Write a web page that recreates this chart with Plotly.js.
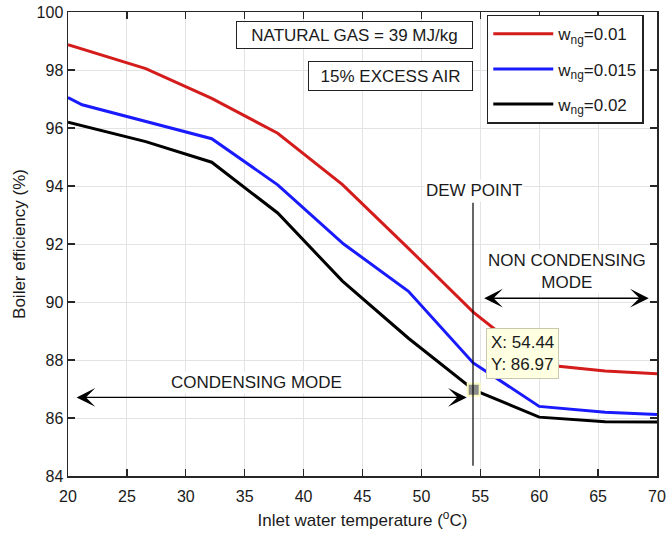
<!DOCTYPE html>
<html>
<head>
<meta charset="utf-8">
<script src="https://cdn.plot.ly/plotly-3.0.1.min.js"></script>
<style>html,body{margin:0;padding:0;background:#fff;}#chart{width:669px;height:539px;}</style>
</head>
<body>
<div id="chart"></div>
<script>
// ---- data ----
const seriesNames = ['w<sub>ng</sub>=0.01', 'w<sub>ng</sub>=0.015', 'w<sub>ng</sub>=0.02'];
const redX   = [20, 26.6, 32.2, 37.8, 43.3, 48.9, 54.4, 60, 65.6, 70];
const redY   = [98.87, 98.05, 97.02, 95.82, 94.05, 91.85, 89.65, 87.85, 87.62, 87.53];
const blueX  = [20, 21.2, 32.2, 37.8, 43.4, 48.9, 54.4, 60, 65.6, 70];
const blueY  = [97.05, 96.8, 95.63, 94.04, 92.0, 90.37, 87.9, 86.4, 86.2, 86.12];
const blackX = [20, 26.6, 32.2, 37.8, 43.3, 48.9, 54.44, 60, 65.6, 70];
const blackY = [96.2, 95.53, 94.82, 93.07, 90.72, 88.75, 86.97, 86.03, 85.87, 85.86];
const tipX = 54.44;
const tipY = 86.97;
const dewPointX = 54.38;
const xTicks = [20, 25, 30, 35, 40, 45, 50, 55, 60, 65, 70];
const yTicks = [84, 86, 88, 90, 92, 94, 96, 98, 100];

const FONT = 'Liberation Sans, Arial, Helvetica, sans-serif';
const TXT = '#1a1a1a';

const traces = [
  {x: redX, y: redY, name: seriesNames[0], legendgroup: 'a', mode: 'lines', line: {color: '#d41c1c', width: 3}},
  {x: blueX, y: blueY, name: seriesNames[1], legendgroup: 'b', mode: 'lines', line: {color: '#1a1aff', width: 3}},
  {x: blackX, y: blackY, name: seriesNames[2], legendgroup: 'c', mode: 'lines', line: {color: '#000000', width: 3}},
  {x: [tipX], y: [tipY], mode: 'markers', showlegend: false, hoverinfo: 'skip',
   marker: {symbol: 'square', size: 12, color: '#8a8a8a', line: {color: '#fbfbc0', width: 2}}}
];

const arrowCommon = {xref: 'x', yref: 'y', axref: 'x', ayref: 'y', text: '', showarrow: true,
  arrowhead: 3, startarrowhead: 3, arrowside: 'end+start', arrowsize: 2.4, startarrowsize: 2.4,
  arrowwidth: 1.3, arrowcolor: '#000'};

const annotations = [
  {x: 44.32, y: 99.21, xref: 'x', yref: 'y', text: 'NATURAL GAS = 39 MJ/kg', showarrow: false,
   font: {family: FONT, size: 17, color: TXT}, bgcolor: '#fff', bordercolor: '#222', borderwidth: 1,
   borderpad: 3, width: 229, height: 20},
  {x: 47.38, y: 97.81, xref: 'x', yref: 'y', text: '15% EXCESS AIR', showarrow: false,
   font: {family: FONT, size: 17, color: TXT}, bgcolor: '#fff', bordercolor: '#222', borderwidth: 1,
   borderpad: 3, width: 157, height: 22},
  {x: 54.47, y: 93.83, xref: 'x', yref: 'y', text: 'DEW POINT', showarrow: false,
   font: {family: FONT, size: 17, color: TXT}, bgcolor: '#fff', borderpad: 1},
  {x: 62.33, y: 91.04, xref: 'x', yref: 'y', text: 'NON CONDENSING<br>MODE', showarrow: false,
   font: {family: FONT, size: 17, color: TXT}, bgcolor: '#fff', borderpad: 1},
  {x: 35.96, y: 87.24, xref: 'x', yref: 'y', text: 'CONDENSING MODE', showarrow: false,
   font: {family: FONT, size: 17, color: TXT}, bgcolor: '#fff', borderpad: 1},
  Object.assign({x: 69.3, y: 90.13, ax: 55.2, ay: 90.13}, arrowCommon),
  Object.assign({x: 53.85, y: 86.71, ax: 20.6, ay: 86.71}, arrowCommon),
  {x: 58.54, y: 88.22, xref: 'x', yref: 'y', text: 'X: ' + tipX.toFixed(2) + '<br>Y: ' + tipY.toFixed(2),
   showarrow: false, align: 'left', font: {family: FONT, size: 17, color: TXT},
   bgcolor: '#ffffe1', bordercolor: '#c9c9b0', borderwidth: 1, borderpad: 4}
];

const shapes = [
  {type: 'line', xref: 'x', yref: 'y', x0: dewPointX, x1: dewPointX, y0: 84.35, y1: 93.42,
   line: {color: '#000', width: 1.2}, layer: 'above'}
];

const axisCommon = {
  showgrid: true, gridcolor: '#e3e3e3', gridwidth: 1,
  showline: true, linecolor: '#262626', linewidth: 1.5, mirror: 'ticks',
  ticks: 'inside', ticklen: 7, tickwidth: 1.2, tickcolor: '#262626',
  zeroline: false, tickfont: {family: FONT, size: 16, color: TXT}
};

const layout = {
  width: 669, height: 539,
  margin: {l: 68, r: 12, t: 12, b: 63},
  paper_bgcolor: '#fff', plot_bgcolor: '#fff',
  font: {family: FONT, size: 16, color: TXT},
  xaxis: Object.assign({}, axisCommon, {
    range: [20, 70], tickvals: xTicks, ticktext: xTicks.map(String), ticklabelstandoff: 5,
    title: {text: 'Inlet water temperature (<sup>o</sup>C)', font: {family: FONT, size: 17, color: TXT}, standoff: 10}
  }),
  yaxis: Object.assign({}, axisCommon, {
    range: [84, 100], tickvals: yTicks, ticktext: yTicks.map(String),
    title: {text: 'Boiler efficiency (%)', font: {family: FONT, size: 17, color: TXT}, standoff: 6}
  }),
  legend: {x: 0.711, y: 0.994, xanchor: 'left', yanchor: 'top', bgcolor: '#fff',
    bordercolor: '#222', borderwidth: 1.5, font: {family: FONT, size: 17, color: TXT},
    itemwidth: 60, tracegroupgap: 10},
  annotations: annotations,
  shapes: shapes,
  hovermode: false
};

Plotly.newPlot('chart', traces, layout, {displayModeBar: false, staticPlot: true});
</script>
</body>
</html>
